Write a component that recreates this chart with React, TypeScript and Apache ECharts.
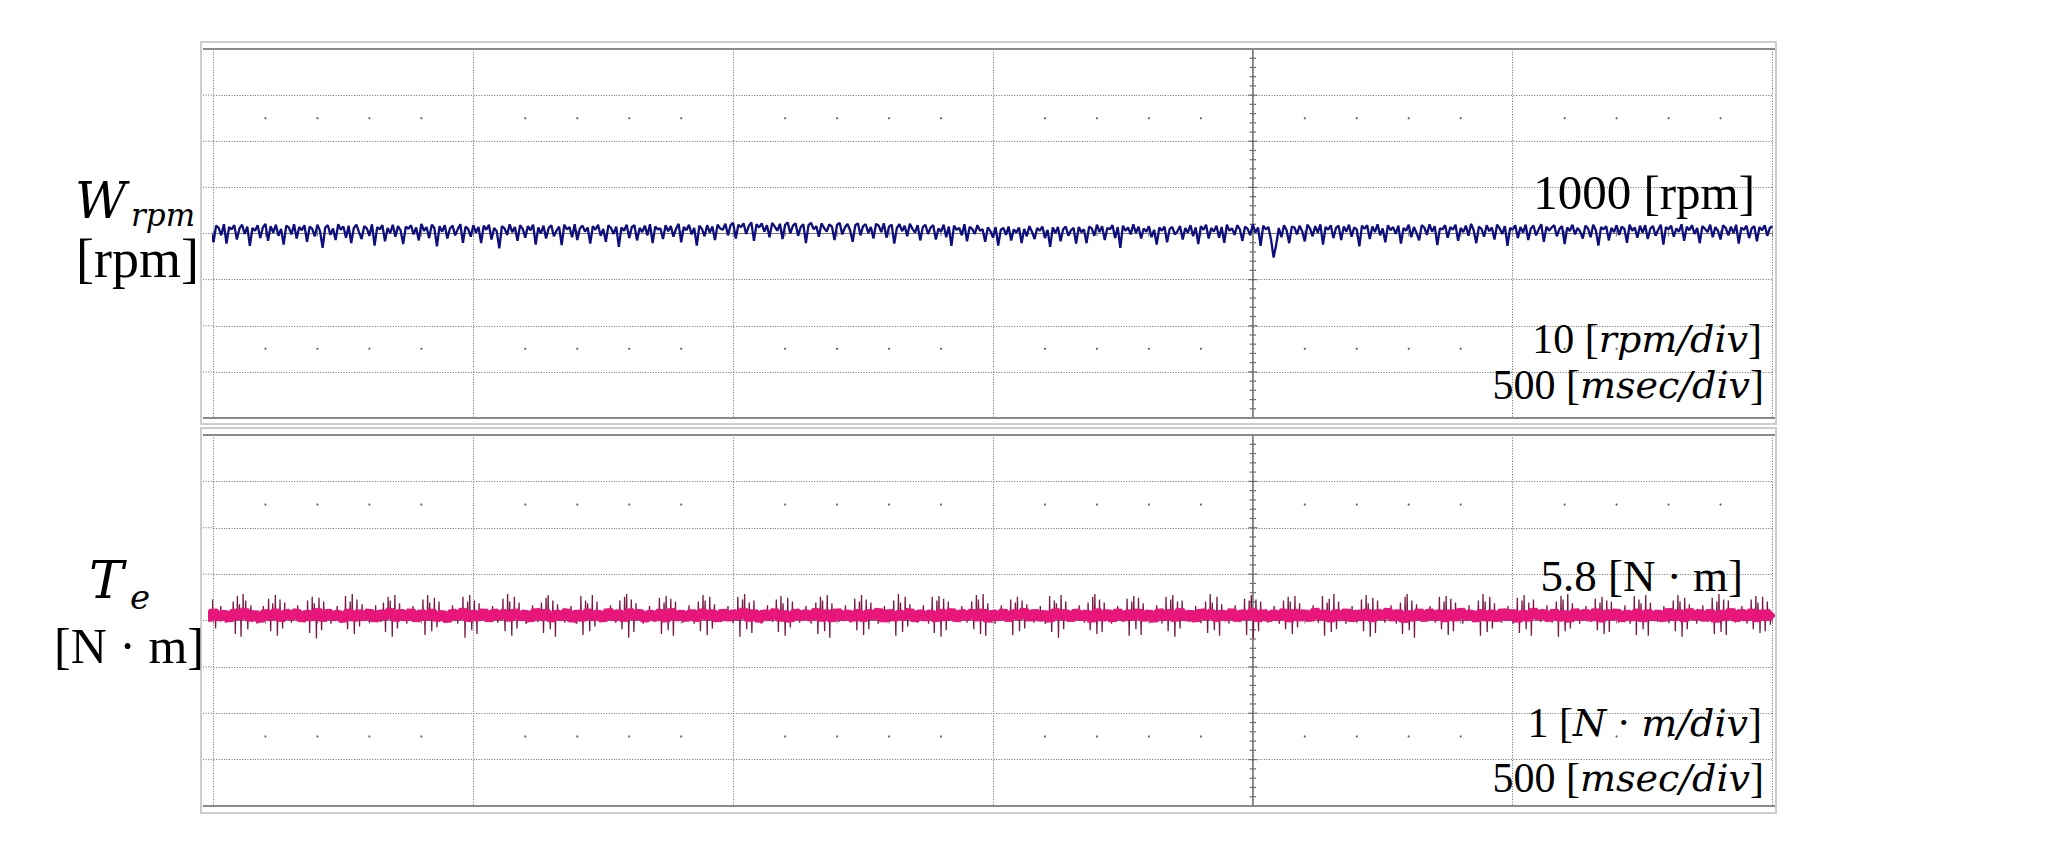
import React, { useEffect, useRef } from "react";
import * as echarts from "echarts";

// ---------- data ----------
const timeStartMs = -20;
const rpmStepMs = 5;
const torqueStepMs = 10;

// W_rpm trace [rpm], one sample every 5 ms starting at -20 ms
const rpmValues = [
  1001.6, 999.2, 1001.9, 1000.4, 998.1, 1001.7, 1001.2, 999.6, 1002.0, 997.8, 1001.4, 1000.9, 1001.8, 998.7, 1001.1, 1001.9, 999.9, 1001.5, 997.3, 1001.2,
  1000.6, 1001.8, 999.0, 1001.3, 1002.1, 998.4, 1001.6, 1000.2, 1001.9, 999.5, 1001.0, 997.6, 1001.7, 1001.3, 999.8, 1002.0, 998.9, 1001.4, 1000.7, 1001.8,
  998.2, 1001.5, 1001.0, 999.4, 1001.9, 1000.5, 996.9, 1001.3, 1001.8, 999.7, 1001.1, 998.6, 1002.0, 1000.8, 1001.5, 999.1, 1001.7, 997.9, 1001.2, 1001.9,
  1000.3, 998.8, 1001.6, 1001.1, 999.5, 1002.0, 997.4, 1001.4, 1000.9, 1001.8, 998.3, 1001.2, 1000.1, 1001.9, 999.3, 1001.6, 1000.7, 997.7, 1001.5, 1001.0,
  1001.8, 999.8, 1001.3, 998.5, 1002.1, 1000.6, 1001.4, 999.0, 1001.9, 1001.2, 997.2, 1001.6, 1000.4, 1001.8, 998.9, 1001.1, 1001.7, 999.6, 1000.9, 1002.0,
  998.0, 1001.5, 1001.0, 999.3, 1001.8, 1000.2, 1001.4, 997.9, 1001.7, 1000.8, 1001.9, 998.7, 1001.2, 1000.5, 996.8, 1001.6, 1001.1, 999.7, 1002.0, 1000.3,
  1001.4, 998.4, 1001.8, 1001.0, 999.1, 1001.6, 1000.7, 1001.9, 997.6, 1001.3, 1000.0, 1001.7, 998.9, 1001.2, 1001.8, 999.4, 1000.6, 1001.5, 997.5, 1001.9,
  1000.9, 1001.4, 999.2, 1002.0, 998.6, 1001.1, 1001.7, 1000.4, 1001.3, 997.8, 1001.6, 1000.8, 1001.9, 999.5, 1001.0, 998.2, 1001.8, 1001.2, 999.9, 1001.5,
  997.1, 1001.3, 1000.6, 1001.9, 999.0, 1001.4, 1001.8, 998.5, 1001.2, 1000.3, 1001.7, 999.6, 1002.0, 997.9, 1001.5, 1000.9, 1001.1, 998.8, 1001.8, 1000.5,
  1001.6, 999.3, 1001.0, 1002.1, 998.1, 1001.4, 1000.7, 1001.9, 999.8, 1001.2, 997.4, 1001.7, 1001.0, 999.4, 1001.8, 1000.2, 1001.5, 998.6, 1001.9, 1001.1,
  1000.8, 1002.1, 999.6, 1001.8, 1002.3, 998.9, 1001.9, 1001.4, 1002.2, 999.9, 1001.6, 1002.4, 998.4, 1002.0, 1001.3, 1002.2, 1000.4, 1001.8, 999.2, 1002.3,
  1001.5, 1000.6, 1002.1, 998.8, 1001.9, 1002.4, 1000.0, 1001.7, 1002.2, 999.5, 1001.4, 1002.0, 997.9, 1001.8, 1002.3, 1000.9, 1001.6, 999.3, 1002.2, 1001.2,
  1000.4, 1002.0, 1001.5, 998.6, 1001.9, 1002.3, 999.8, 1001.3, 1002.1, 1000.7, 998.2, 1001.8, 1002.2, 999.6, 1001.6, 1002.0, 1000.1, 1001.4, 998.9, 1002.1,
  1001.7, 1000.3, 1002.2, 999.1, 1001.5, 1001.9, 997.8, 1001.2, 1002.0, 1000.5, 1001.7, 999.4, 1002.1, 1001.0, 1000.2, 1001.8, 998.5, 1001.4, 1001.9, 999.9,
  1001.3, 1001.8, 998.7, 1001.1, 1000.4, 1001.9, 999.2, 1001.5, 997.3, 1001.7, 1000.8, 1001.2, 999.6, 1002.0, 998.3, 1001.4, 1001.0, 999.9, 1001.8, 1000.6,
  1000.9, 998.2, 1001.3, 1000.5, 999.1, 1001.4, 997.4, 1000.8, 1001.2, 999.7, 1001.5, 998.5, 1000.9, 1000.2, 1001.3, 997.9, 1001.0, 999.4, 1001.6, 1000.4,
  998.8, 1001.2, 1000.6, 1001.5, 999.0, 1000.8, 997.1, 1001.3, 1000.1, 1001.4, 998.3, 1000.9, 1001.5, 999.5, 1000.7, 1001.2, 997.8, 1001.4, 1000.3, 1000.9,
  997.9, 1001.5, 1001.1, 999.5, 1001.9, 1000.3, 1001.6, 998.6, 1001.2, 1000.9, 1001.8, 999.0, 1001.4, 996.9, 1001.7, 1000.6, 1001.3, 999.8, 1002.0, 1000.1,
  1001.5, 998.9, 1001.1, 1000.4, 1001.6, 999.2, 1000.8, 997.6, 1001.3, 1000.6, 1001.5, 998.1, 1001.0, 1001.4, 999.8, 1000.5, 1001.6, 998.7, 1001.2, 1000.2,
  1001.8, 999.4, 1001.3, 997.7, 1001.6, 1000.8, 1001.9, 998.9, 1001.2, 1000.4, 1001.7, 999.1, 1001.4, 998.0, 1001.9, 1000.6, 1001.1, 999.7, 1001.8, 1000.9,
  998.4, 1001.5, 1001.0, 999.6, 1002.0, 1000.2, 1001.3, 997.3, 1001.7, 1000.9, 1001.4, 998.7, 994.8, 997.6, 1001.2, 999.2, 1001.8, 1000.7, 997.9, 1001.5,
  1001.3, 999.8, 1001.7, 1000.5, 998.3, 1001.9, 1001.1, 999.4, 1001.6, 1000.2, 1002.0, 997.6, 1001.4, 1000.8, 1001.8, 999.0, 1001.2, 1001.7, 998.6, 1001.5,
  1000.4, 1001.9, 999.3, 1001.3, 1000.9, 997.2, 1001.7, 1001.0, 1001.8, 998.8, 1001.5, 1000.3, 1002.0, 999.6, 1001.1, 998.1, 1001.8, 1000.7, 1001.4, 999.9,
  1001.7, 997.8, 1001.2, 1000.6, 1001.9, 999.2, 1001.4, 1000.1, 998.5, 1001.8, 1001.3, 999.7, 1002.0, 1000.4, 1001.6, 997.5, 1001.1, 1000.9, 1001.8, 999.1,
  1001.4, 1000.8, 1001.9, 998.4, 1001.2, 1000.3, 1001.7, 999.5, 1002.1, 1000.7, 997.9, 1001.5, 1001.0, 999.3, 1001.8, 1000.5, 1001.3, 998.7, 1001.9, 1001.1,
  999.9, 1001.6, 997.3, 1001.2, 1000.8, 1001.8, 999.0, 1001.4, 1000.2, 1001.9, 998.6, 1001.1, 1001.7, 999.6, 1000.9, 1002.0, 998.2, 1001.5, 1000.6, 1001.3,
  1001.8, 999.4, 1001.0, 1001.6, 997.7, 1001.3, 1000.5, 1001.9, 999.8, 1001.2, 1000.4, 998.9, 1001.7, 1001.1, 999.2, 1001.9, 1000.7, 997.4, 1001.4, 1000.9,
  1001.6, 998.5, 1001.2, 1000.3, 1001.8, 999.7, 1001.5, 1001.0, 998.0, 1001.9, 1000.6, 1001.3, 999.1, 1001.7, 1000.2, 1001.8, 998.8, 1001.1, 1001.6, 999.5,
  1000.8, 1001.9, 997.6, 1001.4, 1000.9, 1001.7, 999.3, 1001.1, 1000.4, 1002.0, 998.4, 1001.5, 1000.7, 1001.8, 999.9, 1001.2, 997.9, 1001.6, 1001.0, 1000.3,
  1001.9, 999.2, 1001.4, 1000.6, 998.7, 1001.8, 1001.2, 999.6, 1001.5, 1000.1, 1001.9, 997.8, 1001.3, 1000.8, 1001.7, 999.0, 1001.1, 1001.6, 998.3, 1001.4,
  1000.7, 1001.8, 999.5, 1001.2, 1001.6,
];

// T_e dense pink band [N·m], one sample every 10 ms starting at -20 ms
const torqueBandValues = [
  5.86, 5.73, 5.88, 5.75, 5.84, 5.72, 5.87, 5.77, 5.89, 5.74, 5.83, 5.71, 5.86, 5.76, 5.88, 5.73, 5.85, 5.78, 5.87, 5.72,
  5.84, 5.75, 5.89, 5.73, 5.86, 5.77, 5.83, 5.71, 5.88, 5.74, 5.85, 5.76, 5.87, 5.72, 5.84, 5.78, 5.89, 5.73, 5.86, 5.75,
  5.88, 5.72, 5.85, 5.76, 5.87, 5.74, 5.83, 5.71, 5.86, 5.77, 5.89, 5.73, 5.84, 5.75, 5.88, 5.72, 5.86, 5.78, 5.85, 5.74,
  5.87, 5.76, 5.84, 5.72, 5.89, 5.75, 5.86, 5.73, 5.83, 5.77, 5.88, 5.71, 5.85, 5.74, 5.87, 5.76, 5.84, 5.72, 5.89, 5.75,
  5.85, 5.73, 5.88, 5.77, 5.86, 5.72, 5.84, 5.75, 5.87, 5.71, 5.89, 5.76, 5.83, 5.74, 5.86, 5.73, 5.88, 5.77, 5.85, 5.72,
  5.87, 5.75, 5.84, 5.78, 5.89, 5.73, 5.86, 5.71, 5.85, 5.76, 5.88, 5.74, 5.83, 5.72, 5.87, 5.77, 5.84, 5.75, 5.89, 5.73,
  5.86, 5.72, 5.88, 5.76, 5.84, 5.74, 5.87, 5.73, 5.85, 5.78, 5.89, 5.71, 5.86, 5.75, 5.83, 5.77, 5.88, 5.72, 5.85, 5.76,
  5.84, 5.73, 5.87, 5.75, 5.89, 5.72, 5.85, 5.77, 5.86, 5.74, 5.88, 5.71, 5.84, 5.76, 5.87, 5.73, 5.85, 5.78, 5.89, 5.74,
  5.86, 5.75, 5.83, 5.72, 5.88, 5.77, 5.85, 5.73, 5.87, 5.76, 5.84, 5.71, 5.89, 5.74, 5.86, 5.72, 5.88, 5.75, 5.84, 5.77,
  5.87, 5.74, 5.85, 5.71, 5.88, 5.76, 5.86, 5.73, 5.89, 5.75, 5.84, 5.72, 5.87, 5.78, 5.85, 5.74, 5.83, 5.76, 5.88, 5.73,
  5.85, 5.77, 5.89, 5.72, 5.86, 5.74, 5.84, 5.76, 5.88, 5.71, 5.87, 5.75, 5.85, 5.73, 5.89, 5.77, 5.84, 5.72, 5.86, 5.75,
  5.88, 5.73, 5.84, 5.76, 5.87, 5.72, 5.85, 5.78, 5.89, 5.74, 5.86, 5.71, 5.83, 5.75, 5.88, 5.73, 5.87, 5.76, 5.85, 5.72,
  5.86, 5.74, 5.89, 5.77, 5.84, 5.72, 5.87, 5.75, 5.85, 5.73, 5.88, 5.76, 5.86, 5.71, 5.84, 5.74, 5.89, 5.78, 5.85, 5.73,
  5.87, 5.75, 5.83, 5.72, 5.88, 5.76, 5.86, 5.74, 5.89, 5.71, 5.85, 5.77, 5.87, 5.73, 5.84, 5.75, 5.88, 5.72, 5.86, 5.76,
  5.84, 5.73, 5.89, 5.75, 5.86, 5.72, 5.88, 5.77, 5.85, 5.74, 5.87, 5.71, 5.84, 5.76, 5.89, 5.73, 5.86, 5.75, 5.88, 5.72,
  5.85, 5.76, 5.87,
];

// T_e level and the dark spikes [time ms, peak N·m]
const torqueLevel = 5.8;
const torqueSpikes: [number, number][] = [
  [-14, 5.44], [-8, 6.06], [-2, 6.14], [4, 5.52], [14, 6.0], [24, 5.64],
  [38, 6.1], [42, 5.4], [46, 6.22], [50, 6.04], [53, 5.34], [57, 6.26], [62, 6.12], [66, 5.5], [72, 6.02], [84, 5.62], [96, 6.0],
  [106, 6.16], [110, 5.46], [114, 6.06], [119, 6.24], [123, 5.36], [128, 6.14], [133, 5.52], [137, 6.08], [150, 5.64], [162, 6.02], [172, 5.66],
  [181, 6.12], [185, 5.42], [190, 6.2], [194, 6.06], [198, 5.3], [203, 6.18], [208, 5.48], [212, 6.1], [226, 5.62], [238, 6.0], [248, 5.64],
  [254, 6.22], [258, 5.5], [263, 6.1], [267, 6.26], [271, 5.4], [276, 6.14], [281, 5.56], [286, 6.04], [300, 5.64], [312, 6.02], [322, 5.66],
  [327, 6.08], [331, 5.44], [336, 6.2], [340, 6.12], [344, 5.34], [349, 6.24], [354, 5.52], [358, 6.06], [372, 5.62], [384, 6.0], [396, 5.66],
  [403, 6.14], [407, 5.38], [412, 6.24], [416, 6.08], [420, 5.46], [425, 6.18], [430, 5.54], [434, 6.1], [448, 5.64], [460, 6.02], [470, 5.62],
  [480, 6.2], [484, 5.32], [489, 6.1], [493, 6.24], [497, 5.48], [502, 6.12], [507, 5.4], [511, 6.06], [525, 5.66], [537, 6.0], [547, 5.64],
  [557, 6.16], [561, 5.46], [566, 6.26], [570, 6.1], [574, 5.36], [579, 6.2], [584, 5.52], [588, 6.08], [602, 5.62], [614, 6.02], [624, 5.66],
  [631, 6.08], [635, 5.42], [640, 6.18], [644, 6.24], [648, 5.5], [653, 6.12], [658, 5.34], [662, 6.04], [676, 5.64], [688, 6.0], [698, 5.62],
  [707, 6.22], [711, 5.38], [716, 6.12], [720, 6.06], [724, 5.46], [729, 6.24], [734, 5.56], [738, 6.1], [752, 5.66], [764, 6.02], [774, 5.64],
  [782, 6.12], [786, 5.5], [791, 6.2], [795, 6.26], [799, 5.32], [804, 6.14], [809, 5.44], [813, 6.06], [827, 5.62], [839, 6.0], [849, 5.66],
  [858, 6.18], [862, 5.4], [867, 6.08], [871, 6.22], [875, 5.48], [880, 6.16], [885, 5.36], [889, 6.1], [903, 5.64], [915, 6.02], [925, 5.62],
  [933, 6.1], [937, 5.46], [942, 6.24], [946, 6.12], [950, 5.38], [955, 6.2], [960, 5.52], [964, 6.04], [978, 5.66], [990, 6.0], [1000, 5.64],
  [1009, 6.2], [1013, 5.34], [1018, 6.14], [1022, 6.26], [1026, 5.5], [1031, 6.08], [1036, 5.42], [1040, 6.12], [1054, 5.62], [1066, 6.02], [1076, 5.66],
  [1083, 6.14], [1087, 5.44], [1092, 6.22], [1096, 6.06], [1100, 5.36], [1105, 6.18], [1110, 5.54], [1114, 6.1], [1128, 5.64], [1140, 6.0], [1150, 5.62],
  [1159, 6.08], [1163, 5.4], [1168, 6.2], [1172, 6.12], [1176, 5.46], [1181, 6.24], [1186, 5.32], [1190, 6.06], [1204, 5.66], [1216, 6.02], [1226, 5.64],
  [1234, 6.16], [1238, 5.48], [1243, 6.1], [1247, 6.24], [1251, 5.38], [1256, 6.14], [1261, 5.5], [1265, 6.08], [1279, 5.62], [1291, 6.0], [1301, 5.66],
  [1309, 6.12], [1313, 5.36], [1318, 6.26], [1322, 6.08], [1326, 5.44], [1331, 6.2], [1336, 5.56], [1340, 6.04], [1354, 5.64], [1366, 6.02], [1376, 5.62],
  [1383, 6.2], [1387, 5.42], [1392, 6.12], [1396, 6.22], [1400, 5.34], [1405, 6.16], [1410, 5.48], [1414, 6.1], [1428, 5.66], [1440, 6.0], [1450, 5.64],
  [1459, 6.1], [1463, 5.5], [1468, 6.24], [1472, 6.14], [1476, 5.4], [1481, 6.26], [1486, 5.36], [1490, 6.06], [1504, 5.62], [1516, 6.02], [1526, 5.66],
  [1534, 6.14], [1538, 5.38], [1543, 6.08], [1547, 6.2], [1551, 5.46], [1556, 6.12], [1561, 5.52], [1565, 6.04], [1579, 5.64], [1591, 6.0], [1601, 5.62],
  [1609, 6.22], [1613, 5.44], [1618, 6.12], [1622, 6.06], [1626, 5.32], [1631, 6.24], [1636, 5.5], [1640, 6.1], [1654, 5.66], [1666, 6.02], [1676, 5.64],
  [1683, 6.08], [1687, 5.48], [1692, 6.2], [1696, 6.26], [1700, 5.4], [1705, 6.14], [1710, 5.44], [1714, 6.08], [1728, 5.62], [1740, 6.0], [1750, 5.66],
  [1758, 6.16], [1762, 5.36], [1767, 6.1], [1771, 6.22], [1775, 5.5], [1780, 6.18], [1785, 5.38], [1789, 6.06], [1803, 5.64], [1815, 6.02], [1825, 5.62],
  [1833, 6.2], [1837, 5.46], [1842, 6.14], [1846, 6.24], [1850, 5.34], [1855, 6.1], [1860, 5.52], [1864, 6.12], [1878, 5.66], [1890, 6.0], [1900, 5.64],
  [1909, 6.1], [1913, 5.42], [1918, 6.26], [1922, 6.08], [1926, 5.48], [1931, 6.2], [1936, 5.36], [1940, 6.04], [1954, 5.62], [1966, 6.02], [1976, 5.66],
  [1984, 6.16], [1988, 5.38], [1993, 6.12], [1997, 6.24], [2001, 5.3], [2006, 6.14], [2011, 5.46], [2015, 6.1], [2029, 5.64], [2041, 6.0], [2051, 5.62],
  [2059, 6.12], [2063, 5.5], [2068, 6.2], [2072, 6.1], [2076, 5.4], [2081, 6.22], [2086, 5.54], [2090, 6.06], [2104, 5.66], [2116, 6.02], [2126, 5.64],
  [2134, 6.22], [2138, 5.36], [2143, 6.08], [2147, 6.16], [2151, 5.44], [2156, 6.26], [2161, 5.5], [2165, 6.1], [2179, 5.62], [2191, 6.0], [2201, 5.66],
  [2209, 6.14], [2213, 5.46], [2218, 6.24], [2222, 6.06], [2226, 5.34], [2231, 6.18], [2236, 5.42], [2240, 6.12], [2254, 5.64], [2266, 6.02], [2276, 5.62],
  [2284, 6.08], [2288, 5.4], [2293, 6.2], [2297, 6.26], [2301, 5.48], [2306, 6.12], [2311, 5.32], [2315, 6.04], [2329, 5.66], [2341, 6.0], [2351, 5.64],
  [2359, 6.2], [2363, 5.5], [2368, 6.1], [2372, 6.22], [2376, 5.38], [2381, 6.16], [2386, 5.46], [2390, 6.08], [2404, 5.62], [2416, 6.02], [2426, 5.66],
  [2434, 6.12], [2438, 5.36], [2443, 6.26], [2447, 6.1], [2451, 5.44], [2456, 6.2], [2461, 5.52], [2465, 6.06], [2479, 5.64], [2491, 6.0], [2501, 5.62],
  [2509, 6.18], [2513, 5.42], [2518, 6.12], [2522, 6.24], [2526, 5.5], [2531, 6.08], [2536, 5.36], [2540, 6.14], [2554, 5.66], [2566, 6.02], [2576, 5.64],
  [2584, 6.1], [2588, 5.34], [2593, 6.22], [2597, 6.14], [2601, 5.46], [2606, 6.26], [2611, 5.52], [2615, 6.06], [2629, 5.62], [2641, 6.0], [2651, 5.66],
  [2659, 6.16], [2663, 5.48], [2668, 6.08], [2672, 6.2], [2676, 5.4], [2681, 6.12], [2686, 5.44], [2690, 6.1], [2704, 5.64], [2716, 6.02], [2726, 5.62],
  [2734, 6.22], [2738, 5.38], [2743, 6.14], [2747, 6.06], [2751, 5.5], [2756, 6.24], [2761, 5.36], [2765, 6.08], [2779, 5.66], [2791, 6.0], [2801, 5.64],
  [2809, 6.12], [2813, 5.46], [2818, 6.24], [2822, 6.1], [2826, 5.34], [2831, 6.18], [2836, 5.5], [2840, 6.04], [2854, 5.62], [2866, 6.02], [2876, 5.66],
  [2884, 6.18], [2888, 5.4], [2893, 6.1], [2897, 6.26], [2901, 5.44], [2906, 6.14], [2911, 5.38], [2915, 6.12], [2929, 5.64], [2941, 6.0], [2951, 5.62],
  [2959, 6.14], [2963, 5.5], [2968, 6.22], [2972, 6.08], [2976, 5.42], [2981, 6.2], [2986, 5.46], [2990, 6.1], [2996, 5.6],
];

// axes (500 msec/div, 10 rpm/div, 1 N·m/div, 8 vertical divisions)
const timeAxis = { min: 0, max: 3000, interval: 500 };
const rpmAxis = { min: 960, max: 1040, interval: 10 };
const torqueDivAxis = { min: 0, max: 8, interval: 1 };
const torqueAxisRange = { min: 1.69, max: 9.69 };
const centerTimeMs = 2000;

// labels
const rpmSymbol = "W";
const rpmSubscript = "rpm";
const rpmUnit = "[rpm]";
const rpmLevelText = "1000 [rpm]";
const torqueSymbol = "T";
const torqueSubscript = "e";
const torqueUnit = "[N · m]";
const torqueLevelText = "5.8 [N · m]";

const SERIF = "'Liberation Serif', 'Times New Roman', serif";
const MATH = "'DejaVu Serif', serif";

export default function App() {
  const ref = useRef<HTMLDivElement>(null);

  useEffect(() => {
    const el = ref.current!;
    const chart = echarts.init(el, null, { renderer: "svg" });

    const rpmData = rpmValues.map((v, i) => [timeStartMs + i * rpmStepMs, v]);
    const bandData = torqueBandValues.map((v, i) => [timeStartMs + i * torqueStepMs, v]);
    const spikeData: number[][] = [];
    torqueSpikes.forEach(([t, v]) => {
      spikeData.push([t - 0.6, torqueLevel], [t, v], [t + 0.6, torqueLevel]);
    });

    const dotted = { show: true, lineStyle: { color: "#6a6a6a", width: 1, type: [1, 1.6] } };
    const hidden = { show: false };
    const xBase = {
      type: "value", ...timeAxis,
      axisLine: hidden, axisTick: hidden, axisLabel: hidden, splitLine: dotted,
    };
    const yBase = { type: "value", axisLine: hidden, axisTick: hidden, axisLabel: hidden, splitLine: dotted };

    chart.setOption({
      animation: false,
      backgroundColor: "#ffffff",
      grid: [
        { left: 213.5, right: 288.5, top: 49, height: 369 },
        { left: 213.5, right: 288.5, top: 435, height: 371 },
      ],
      xAxis: [
        { ...xBase, gridIndex: 0 },
        { ...xBase, gridIndex: 1 },
      ],
      yAxis: [
        { ...yBase, gridIndex: 0, ...rpmAxis },
        { ...yBase, gridIndex: 1, ...torqueDivAxis },
        { type: "value", gridIndex: 1, ...torqueAxisRange, show: false, splitLine: hidden },
      ],
      series: [
        {
          name: "W_rpm", type: "line", xAxisIndex: 0, yAxisIndex: 0, data: rpmData,
          showSymbol: false, clip: false, z: 6,
          lineStyle: { color: "#0e0e7c", width: 2.3 },
        },
        {
          name: "T_e spikes", type: "line", xAxisIndex: 1, yAxisIndex: 2, data: spikeData,
          showSymbol: false, clip: false, z: 5,
          lineStyle: { color: "#741a44", width: 1.3 },
        },
        {
          name: "T_e", type: "line", xAxisIndex: 1, yAxisIndex: 2, data: bandData,
          showSymbol: false, clip: false, z: 6,
          lineStyle: { color: "#e8157a", width: 10 },
        },
      ],
    });

    const g: any[] = [];
    const px = (xi: number, yi: number, t: number, v: number) =>
      chart.convertToPixel({ xAxisIndex: xi, yAxisIndex: yi } as any, [t, v]) as number[];

    const panels = [
      { xi: 0, yi: 0, ax: rpmAxis, outerTop: 42, outerBottom: 424 },
      { xi: 1, yi: 1, ax: torqueDivAxis, outerTop: 428, outerBottom: 813 },
    ];
    const frameLeft = 201;
    const frameRight = 1776;

    panels.forEach((p) => {
      const { xi, yi, ax } = p;
      const [x0, yTop] = px(xi, yi, timeAxis.min, ax.max);
      const [x1, yBot] = px(xi, yi, timeAxis.max, ax.min);
      g.push({
        type: "rect", z: 30,
        shape: { x: frameLeft, y: p.outerTop, width: frameRight - frameLeft, height: p.outerBottom - p.outerTop },
        style: { fill: "none", stroke: "#cdcdcd", lineWidth: 2 },
      });
      [yTop, yBot].forEach((y) =>
        g.push({
          type: "line", z: 31,
          shape: { x1: frameLeft + 2, y1: y, x2: frameRight - 1, y2: y },
          style: { stroke: "#8a8a8a", lineWidth: 2 },
        })
      );
      for (let v = ax.min + ax.interval; v < ax.max; v += ax.interval) {
        const y = px(xi, yi, timeAxis.min, v)[1];
        g.push({
          type: "line", z: 1,
          shape: { x1: frameLeft + 2, y1: y, x2: x0, y2: y },
          style: { stroke: "#6a6a6a", lineWidth: 1, lineDash: [1, 1.6] },
        });
      }
      const cx = px(xi, yi, centerTimeMs, ax.min)[0];
      g.push({
        type: "line", z: 2,
        shape: { x1: cx, y1: yTop, x2: cx, y2: yBot },
        style: { stroke: "#6e6e6e", lineWidth: 1.4 },
      });
      const minorV = ax.interval / 5;
      for (let k = 0; k <= (ax.max - ax.min) / minorV; k++) {
        const y = px(xi, yi, centerTimeMs, ax.min + k * minorV)[1];
        const h = k % 5 === 0 ? 4.5 : 3.2;
        g.push({
          type: "line", z: 2,
          shape: { x1: cx - h, y1: y, x2: cx + h, y2: y },
          style: { stroke: "#6e6e6e", lineWidth: 1.2 },
        });
      }
      const midV = (ax.min + ax.max) / 2;
      const cy = px(xi, yi, timeAxis.min, midV)[1];
      g.push({
        type: "line", z: 2,
        shape: { x1: x0, y1: cy, x2: x1, y2: cy },
        style: { stroke: "#7a7a7a", lineWidth: 1 },
      });
      const minorT = timeAxis.interval / 5;
      for (let k = 0; k <= (timeAxis.max - timeAxis.min) / minorT; k++) {
        const x = px(xi, yi, timeAxis.min + k * minorT, midV)[0];
        g.push({
          type: "line", z: 2,
          shape: { x1: x, y1: cy - 3, x2: x, y2: cy + 3 },
          style: { stroke: "#7a7a7a", lineWidth: 1 },
        });
      }
      const dotRows = [ax.min + 1.5 * ax.interval, ax.max - 1.5 * ax.interval];
      dotRows.forEach((v) => {
        for (let k = 1; k < (timeAxis.max - timeAxis.min) / minorT; k++) {
          if (k % 5 === 0) continue;
          const [x, y] = px(xi, yi, timeAxis.min + k * minorT, v);
          g.push({
            type: "circle", z: 2,
            shape: { cx: x, cy: y, r: 1.1 },
            style: { fill: "#666666" },
          });
        }
      });
    });

    // ---- texts ----
    const txt = (x: number, y: number, align: string, style: any) =>
      g.push({ type: "text", x, y, z: 40, style: { fill: "#000", align, verticalAlign: "middle", ...style } });

    txt(75, 201, "left", { text: rpmSymbol, fontFamily: MATH, fontStyle: "italic", fontSize: 50 });
    txt(131, 215, "left", { text: rpmSubscript, fontFamily: MATH, fontStyle: "italic", fontSize: 31 });
    txt(76, 259, "left", { text: rpmUnit, fontFamily: SERIF, fontSize: 54 });
    txt(89, 580, "left", { text: torqueSymbol, fontFamily: MATH, fontStyle: "italic", fontSize: 52 });
    txt(130, 597, "left", { text: torqueSubscript, fontFamily: MATH, fontStyle: "italic", fontSize: 34 });
    txt(54, 646, "left", { text: torqueUnit, fontFamily: SERIF, fontSize: 50 });

    const n = { fontFamily: SERIF, fontSize: 42, fill: "#000" };
    const it = { fontFamily: MATH, fontStyle: "italic", fontSize: 38, fill: "#000" };
    txt(1755, 192, "right", { text: rpmLevelText, fontFamily: SERIF, fontSize: 49 });
    txt(1762, 339, "right", { text: "{n|10 [}{i|rpm/div}{n|]}", rich: { n, i: it } });
    txt(1764, 385, "right", { text: "{n|500 [}{i|msec/div}{n|]}", rich: { n, i: it } });
    txt(1743, 576, "right", { text: torqueLevelText, fontFamily: SERIF, fontSize: 45 });
    txt(1762, 723, "right", { text: "{n|1 [}{i|N}{n| · }{i|m/div}{n|]}", rich: { n, i: it } });
    txt(1764, 778, "right", { text: "{n|500 [}{i|msec/div}{n|]}", rich: { n, i: it } });

    chart.setOption({ graphic: g });

    return () => chart.dispose();
  }, []);

  return (
    <div
      ref={ref}
      style={{ position: "fixed", left: 0, top: 0, width: 2061, height: 850, background: "#fff" }}
    />
  );
}
